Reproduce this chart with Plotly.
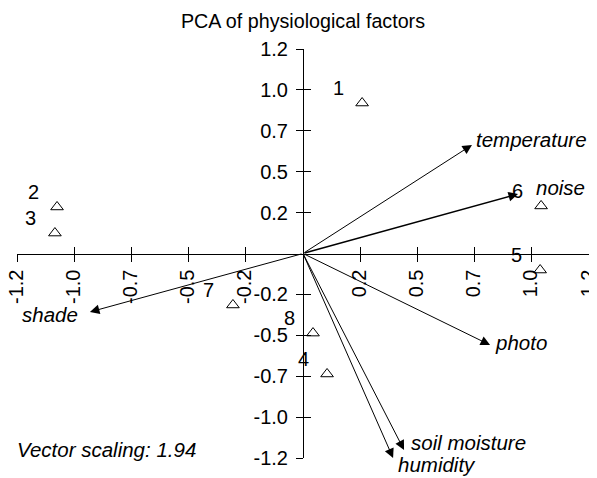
import plotly.graph_objects as go

# ---- data ----
site_labels = ["1", "2", "3", "4", "5", "6", "7", "8"]
site_x = [0.248, -1.032, -1.041, 0.101, 0.995, 0.999, -0.294, 0.042]
site_y = [0.883, 0.273, 0.120, -0.707, -0.097, 0.279, -0.302, -0.467]

var_names = ["temperature", "noise", "photo", "soil moisture", "humidity", "shade"]
var_x = [0.709, 0.902, 0.785, 0.424, 0.378, -0.894]
var_y = [0.637, 0.349, -0.537, -1.153, -1.200, -0.343]

tick_vals = [-1.2, -0.96, -0.72, -0.48, -0.24, 0.24, 0.48, 0.72, 0.96, 1.2]
tick_text = ["-1.2", "-1.0", "-0.7", "-0.5", "-0.2", "0.2", "0.5", "0.7", "1.0", "1.2"]

title_text = "PCA of physiological factors"
note_text = "Vector scaling: 1.94"

# ---- styling ----
FONT = "Liberation Sans, Arial, Helvetica, sans-serif"
FS_TICK = 20
FS_TITLE = 19.7
FS_LABEL = 20.5
FS_SITE = 20
# label placement for vector names: (xanchor, xshift, yshift)
var_label_style = {
    "temperature": ("left", 2, 5),
    "noise": ("left", 16, 7),
    "photo": ("left", 3, 3),
    "soil moisture": ("left", 5, 7),
    "humidity": ("left", 3, -6),
    "shade": ("right", -10, -3),
}
var_width = {"noise": 1.6}

# page body adds an 8px offset; the figure spills slightly past the window
W, H = 597, 470
ML, MR, MT, MB = 9, 16, 41, 20

fig = go.Figure()

fig.add_trace(go.Scatter(
    x=site_x, y=site_y, mode="markers",
    xaxis="x2", yaxis="y2",
    marker=dict(symbol="triangle-up-open", size=11, color="black",
                line=dict(width=1, color="black")),
    showlegend=False, hoverinfo="skip", cliponaxis=False,
))

for s, x, y in zip(site_labels, site_x, site_y):
    fig.add_annotation(x=x, y=y, xref="x", yref="y", text=s, showarrow=False,
                       xshift=-24, yshift=15,
                       font=dict(family=FONT, size=FS_SITE, color="black"))

for n, x, y in zip(var_names, var_x, var_y):
    w = var_width.get(n, 1)
    fig.add_annotation(x=x, y=y, xref="x", yref="y", ax=0, ay=0,
                       axref="x", ayref="y", text="", showarrow=True,
                       arrowhead=2, arrowsize=1.9 / w,
                       arrowwidth=w, arrowcolor="black",
                       standoff=0, startstandoff=0)
    xa, xs, ys = var_label_style[n]
    fig.add_annotation(x=x, y=y, xref="x", yref="y", text="<i>%s</i>" % n,
                       showarrow=False, xanchor=xa, yanchor="middle",
                       xshift=xs, yshift=ys,
                       font=dict(family=FONT, size=FS_LABEL, color="black"))

fig.add_annotation(x=-0.0035, y=0.022, xref="paper", yref="paper",
                   text="<i>%s</i>" % note_text, showarrow=False,
                   xanchor="left", yanchor="middle",
                   font=dict(family=FONT, size=FS_LABEL, color="black"))

axis_common = dict(range=[-1.2, 1.2], showgrid=False, zeroline=False,
                   tickvals=tick_vals, ticktext=tick_text,
                   anchor="free", position=0.5, automargin=False,
                   tickcolor="black", tickwidth=1, ticklen=7,
                   ticklabeloverflow="allow",
                   tickfont=dict(family=FONT, size=FS_TICK, color="black"))

overlay_common = dict(range=[-1.2, 1.2], anchor="free", position=0.5,
                      showgrid=False, zeroline=False, showline=False,
                      tickvals=tick_vals, ticks="inside", ticklen=7,
                      tickcolor="black", tickwidth=1, showticklabels=False,
                      automargin=False)

fig.update_layout(
    width=W, height=H,
    margin=dict(l=ML, r=MR, t=MT, b=MB),
    paper_bgcolor="white", plot_bgcolor="white",
    font=dict(family=FONT, size=FS_TICK, color="black"),
    title=dict(text=title_text, x=0.5, xref="paper", xanchor="center",
               y=1 - 13 / H, yref="container", yanchor="middle",
               font=dict(family=FONT, size=FS_TITLE, color="black")),
    xaxis=dict(**axis_common, showline=True, linecolor="black", linewidth=1,
               ticks="outside", tickangle=-90, ticklabelshift=-1),
    yaxis=dict(**axis_common, showline=True, linecolor="black", linewidth=1,
               ticks="outside", ticklabelstandoff=4),
    xaxis2=dict(**overlay_common, overlaying="x"),
    yaxis2=dict(**overlay_common, overlaying="y"),
)

fig.write_html("out.html")
